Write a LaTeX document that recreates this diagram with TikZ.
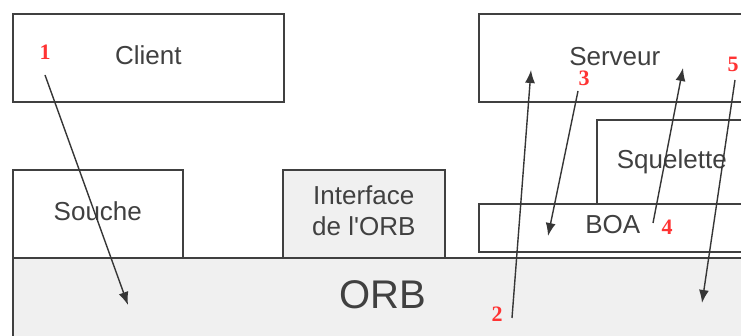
\documentclass[tikz,border=0pt]{standalone}
\usepackage{fontspec}
\setmainfont{Liberation Sans}
\newfontfamily\numfont{Liberation Serif}
\usetikzlibrary{arrows.meta,positioning}
\definecolor{linegray}{HTML}{404040}
\definecolor{orbgray}{HTML}{F0F0F0}
\definecolor{numred}{HTML}{FF3333}

\begin{document}
\begin{tikzpicture}[x=1pt,y=-1pt,
    box/.style={draw=linegray, line width=1.6pt, fill=white,
                anchor=north west, inner sep=0pt, text=linegray,
                text depth=6pt, font=\fontsize{26}{31}\selectfont},
    num/.style={text=numred, inner sep=0pt,
                font=\numfont\bfseries\fontsize{22}{24}\selectfont},
    flow/.style={-{Latex[length=13pt,width=10pt]}, line width=1.4pt,
                 draw=linegray!85!black}]

 \useasboundingbox (0,0) rectangle (741,336);

 % Add the layers
 \node[box, fill=orbgray, minimum width=740, minimum height=80,
       font=\fontsize{40}{44}\selectfont] (orb) at (12,257) {ORB};
 \node[box, minimum width=271, minimum height=88] (client) at (12,13) {Client};
 \node[box, minimum width=272, minimum height=88, text depth=3pt] (serveur) at (478,13) {Serveur};
 \node[box, minimum width=170, minimum height=88] (souche) at (12,169) {Souche};
 \node[box, fill=orbgray, minimum width=162, minimum height=88,
       align=center] (interface) at (282,169) {Interface\\de l\textquotesingle ORB};
 \node[box, minimum width=150, minimum height=84] (squelette) at (596,119) {Squelette};
 \node[box, minimum width=268, minimum height=48] (boa) at (478,203) {BOA};

 % Add the step numbers
 \node[num] (n1) at (45,52)  {1};
 \node[num] (n2) at (497,314) {2};
 \node[num] (n3) at (584,78)  {3};
 \node[num] (n4) at (667,227) {4};
 \node[num] (n5) at (733,64)  {5};

 % Ends of the calls
 \coordinate (a1) at (45,75);   \coordinate (b1) at (128,305);
 \coordinate (a2) at (512,318); \coordinate (b2) at (531,70);
 \coordinate (a3) at (578,91);  \coordinate (b3) at (548,236);
 \coordinate (a4) at (653,223); \coordinate (b4) at (683,68);
 \coordinate (a5) at (735,80);  \coordinate (b5) at (702,303);

 % Connect them with arrows
 \draw[flow] (a1) -- (b1);
 \draw[flow] (a2) -- (b2);
 \draw[flow] (a3) -- (b3);
 \draw[flow] (a4) -- (b4);
 \draw[flow] (a5) -- (b5);
\end{tikzpicture}
\end{document}
